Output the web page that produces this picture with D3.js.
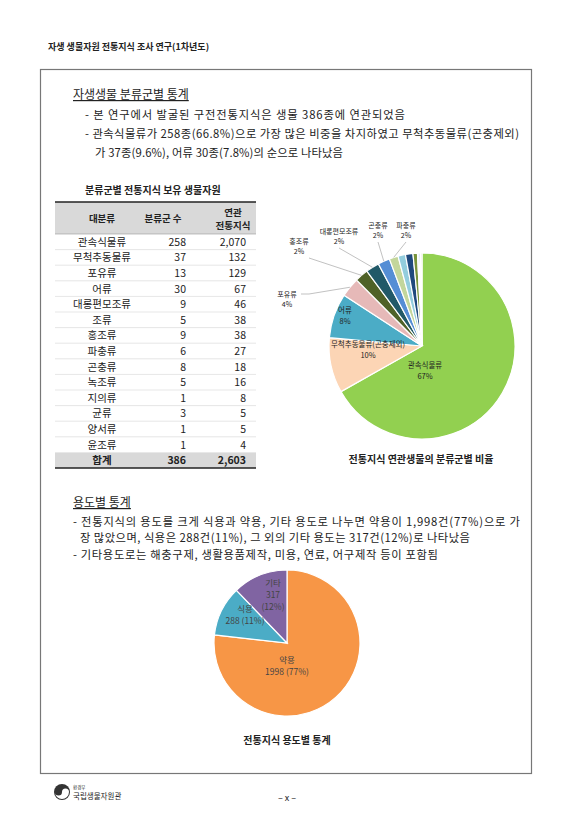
<!DOCTYPE html>
<html><head><meta charset="utf-8">
<script src="https://cdn.jsdelivr.net/npm/d3@7"></script>
<style>
body{margin:0;background:#fff}
text{font-family:"Noto Sans CJK KR","Noto Sans",sans-serif;fill:#222}
</style></head>
<body><svg id="page"></svg>
<script>
// table data
const groups = ["관속식물류","무척추동물류","포유류","어류","대롱편모조류","조류","홍조류","파충류","곤충류","녹조류","지의류","균류","양서류","윤조류"];
const taxaCount = [258,37,13,30,9,5,9,6,8,5,1,3,1,1];
const knowledgeCount = ["2,070","132","129","67","46","38","38","27","18","16","8","5","5","4"];

// pie 1 (order as drawn)
const pieGroups = ["관속식물류","무척추동물류(곤충제외)","어류","포유류","홍조류","대롱편모조류","곤충류","파충류","조류","녹조류","균류","지의류","양서류","윤조류"];
const pieValues = [258,37,30,13,9,9,8,6,5,5,3,1,1,1];
const pieLabels = ["67%","10%","8%","4%","2%","2%","2%","2%"];
const pieColors = ["#92d050","#fcd5b5","#4bacc6","#e6b9b8","#4f6228","#215968","#558ed5","#c3d69b","#93cddd","#1f497d","#77933c","#b7dee8","#8db3e2","#d7e4bd"];

// pie 2
const useNames = ["약용","식용","기타"];
const useValues = [1998,288,317];
const usePct = ["77%","11%","12%"];
const useColors = ["#f79646","#4bacc6","#8064a2"];

const W = 587, H = 830;
const svg = d3.select("#page").attr("width", W).attr("height", H);

svg.append("text").attr("x", 48).attr("y", 50).attr("font-size", 9).attr("font-weight", "bold").text("자생 생물자원 전통지식 조사 연구(1차년도)");
svg.append("rect").attr("x", 40.5).attr("y", 69.5).attr("width", 491).attr("height", 704)
  .attr("fill", "none").attr("stroke", "#777").attr("stroke-width", 1.2);

function para(x, y, s, size, opts = {}) {
  const t = svg.append("text").attr("x", x).attr("y", y).attr("font-size", size).text(s);
  if (opts.bold) t.attr("font-weight", "bold");
  if (opts.anchor) t.attr("text-anchor", opts.anchor);
  if (opts.underline) t.attr("text-decoration", "underline");
  return t;
}

para(73, 99, "자생생물 분류군별 통계", 12, {underline: true});
para(85, 119, "- 본 연구에서 발굴된 구전전통지식은 생물 386종에 연관되었음", 11.3).attr("textLength", 320);
para(85, 138, "- 관속식물류가 258종(66.8%)으로 가장 많은 비중을 차지하였고 무척추동물류(곤충제외)", 11.3).attr("textLength", 434);
para(95, 157, "가 37종(9.6%), 어류 30종(7.8%)의 순으로 나타났음", 11.3).attr("textLength", 248);

// table
para(85, 194, "분류군별 전통지식 보유 생물자원", 10, {bold: true});
const tx0 = 55, tx1 = 256, headTop = 202, headBot = 234, rowH = 15.6;
svg.append("rect").attr("x", tx0).attr("y", headTop).attr("width", tx1 - tx0).attr("height", headBot - headTop).attr("fill", "#d9d9d9");
const totalTop = headBot + rowH * groups.length;
svg.append("rect").attr("x", tx0).attr("y", totalTop).attr("width", tx1 - tx0).attr("height", rowH).attr("fill", "#d9d9d9");
svg.append("line").attr("x1", tx0).attr("x2", tx1).attr("y1", headTop).attr("y2", headTop).attr("stroke", "#222").attr("stroke-width", 1.5);
svg.append("line").attr("x1", tx0).attr("x2", tx1).attr("y1", totalTop + rowH).attr("y2", totalTop + rowH).attr("stroke", "#222").attr("stroke-width", 1.5);
svg.append("line").attr("x1", tx0).attr("x2", tx1).attr("y1", headBot).attr("y2", headBot).attr("stroke", "#999").attr("stroke-width", 0.6);
para(102, 222, "대분류", 9.5, {bold: true, anchor: "middle"});
para(163, 222, "분류군 수", 9.5, {bold: true, anchor: "middle"});
para(233, 216, "연관", 9.5, {bold: true, anchor: "middle"});
para(233, 229, "전통지식", 9.5, {bold: true, anchor: "middle"});
const rowY = d3.scaleBand().domain(groups.concat(["합계"])).range([headBot, totalTop + rowH]);
groups.forEach((g, i) => {
  const y = rowY(g) + rowH / 2 + 4;
  para(102, y, g, 10.5, {anchor: "middle"});
  para(186, y, taxaCount[i], 10.5, {anchor: "end"});
  para(246, y, knowledgeCount[i], 10.5, {anchor: "end"});
  if (i > 0) svg.append("line").attr("x1", tx0).attr("x2", tx1).attr("y1", rowY(g)).attr("y2", rowY(g)).attr("stroke", "#ccc").attr("stroke-width", 0.5);
});
const ty = rowY("합계") + rowH / 2 + 4;
para(102, ty, "합계", 10.5, {bold: true, anchor: "middle"});
para(186, ty, d3.sum(taxaCount), 10.5, {bold: true, anchor: "end"});
para(246, ty, "2,603", 10.5, {bold: true, anchor: "end"});

// pie 1
const c1 = {x: 422, y: 346}, r1 = 93;
const arcs1 = d3.pie().sort(null)(pieValues);
const arc1 = d3.arc().innerRadius(0).outerRadius(r1);
const g1 = svg.append("g").attr("transform", `translate(${c1.x},${c1.y})`);
g1.selectAll("path").data(arcs1).join("path").attr("d", arc1)
  .attr("fill", (d, i) => pieColors[i]).attr("stroke", "#fff").attr("stroke-width", 1.2);
const inside = [[0, 3, 22], [1, -54, 1], [2, -77, -33]];
inside.forEach(([i, dx, dy]) => {
  g1.append("text").attr("x", dx).attr("y", dy).attr("text-anchor", "middle").attr("font-size", 7.5).text(pieGroups[i]);
  g1.append("text").attr("x", dx).attr("y", dy + 11).attr("text-anchor", "middle").attr("font-size", 7.5).text(pieLabels[i]);
});
// outside labels with leader lines
const outside = [[3, 287, 297], [4, 299, 244], [5, 339, 234], [6, 378, 228], [7, 406, 228]];
const arcOuter = d3.arc().innerRadius(r1).outerRadius(r1);
outside.forEach(([i, lx, ly]) => {
  const p = arcOuter.centroid(arcs1[i]);
  const ex = p[0] + c1.x, ey = p[1] + c1.y;
  const isLeft = i === 3;
  const sx = lx + (i === 4 ? 10 : 0), sy = ly + 14;
  svg.append("polyline").attr("points", isLeft ? `${lx + 14},${ly - 3} ${lx + 22},${ly - 3} ${ex},${ey}` : `${sx},${sy} ${ex},${ey}`)
    .attr("fill", "none").attr("stroke", "#a6a6a6").attr("stroke-width", 0.7);
  para(lx, ly, pieGroups[i], 7, {anchor: "middle"});
  para(lx, ly + 10, pieLabels[i], 7, {anchor: "middle"});
});
para(421, 463, "전통지식 연관생물의 분류군별 비율", 10, {bold: true, anchor: "middle"});

// section 2
para(73, 507, "용도별 통계", 12, {underline: true});
para(73, 526, "- 전통지식의 용도를 크게 식용과 약용, 기타 용도로 나누면 약용이 1,998건(77%)으로 가", 11.3).attr("textLength", 447);
para(80, 542, "장 많았으며, 식용은 288건(11%), 그 외의 기타 용도는 317건(12%)로 나타났음", 11.3).attr("textLength", 390);
para(73, 559, "- 기타용도로는 해충구제, 생활용품제작, 미용, 연료, 어구제작 등이 포함됨", 11.3).attr("textLength", 365);

const c2 = {x: 287, y: 643}, r2 = 73;
const arcs2 = d3.pie().sort(null)(useValues);
const g2 = svg.append("g").attr("transform", `translate(${c2.x},${c2.y})`);
g2.selectAll("path").data(arcs2).join("path").attr("d", d3.arc().innerRadius(0).outerRadius(r2))
  .attr("fill", (d, i) => useColors[i]).attr("stroke", "#fff").attr("stroke-width", 1.2);
const lab2 = [[0, 0, 20, [useNames[0], useValues[0] + " (" + usePct[0] + ")"]],
              [1, -42, -31, [useNames[1], useValues[1] + " (" + usePct[1] + ")"]],
              [2, -14, -57, [useNames[2], useValues[2], "(" + usePct[2] + ")"]]];
lab2.forEach(([i, dx, dy, lines]) => {
  lines.forEach((s, k) => g2.append("text").attr("x", dx).attr("y", dy + k * 12)
    .attr("text-anchor", "middle").attr("font-size", 8.5).style("fill", "#444").text(s));
});
para(287, 744, "전통지식 용도별 통계", 10, {bold: true, anchor: "middle"});

// footer
svg.append("circle").attr("cx", 62).attr("cy", 792).attr("r", 8).attr("fill", "#333");
svg.append("path").attr("d", "M55,792 a7,7 0 0 0 14,0 a3.5,3.5 0 0 0 -7,0 a3.5,3.5 0 0 1 -7,0z").attr("fill", "#fff");
para(73, 789, "환경부", 4.5);
para(73, 799, "국립생물자원관", 7.5);
para(287, 801, "– x –", 9, {anchor: "middle"});
</script></body></html>
